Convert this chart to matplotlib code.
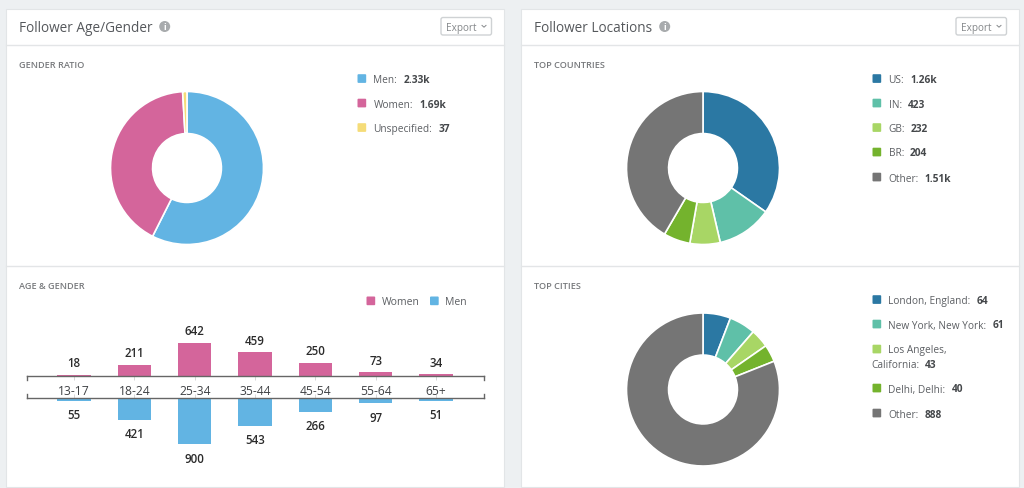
import matplotlib
matplotlib.use("Agg")
import matplotlib.pyplot as plt
from matplotlib.patches import Circle, FancyBboxPatch, Rectangle

W, H = 1024, 489

BG = "#edf0f2"
BLUE = "#62b4e3"
PINK = "#d4659b"
YELLOW = "#f5dc78"
C1 = "#2b78a3"
C2 = "#5fc0a8"
C3 = "#a8d665"
C4 = "#74b32d"
C5 = "#757575"
TXT = "#5c5f63"

# Gender ratio
gender_labels = ["Men", "Women", "Unspecified"]
gender_values = [2330, 1690, 37]
gender_text = ["2.33k", "1.69k", "37"]

# Age & gender
age_groups = ["13-17", "18-24", "25-34", "35-44", "45-54", "55-64", "65+"]
women = [18, 211, 642, 459, 250, 73, 34]
men = [55, 421, 900, 543, 266, 97, 51]

# Countries
country_labels = ["US", "IN", "GB", "BR", "Other"]
country_values = [1260, 423, 232, 204, 1510]
country_text = ["1.26k", "423", "232", "204", "1.51k"]

# Cities
city_labels = ["London, England", "New York, New York", "Los Angeles,\nCalifornia", "Delhi, Delhi", "Other"]
city_values = [64, 61, 43, 40, 888]
city_text = ["64", "61", "43", "40", "888"]

plt.rcParams["font.family"] = ["Open Sans", "DejaVu Sans"]

fig = plt.figure(figsize=(W / 100, H / 100), dpi=100, facecolor=BG)

# overlay in pixel coordinates (y goes down, like the screenshot)
bg = fig.add_axes([0, 0, 1, 1])
bg.set_xlim(0, W)
bg.set_ylim(H, 0)
bg.axis("off")


def px_axes(x0, y0, x1, y1):
    return fig.add_axes([x0 / W, 1 - y1 / H, (x1 - x0) / W, (y1 - y0) / H])


def donut(cx, cy, values, colors):
    r = 76.5
    ax = px_axes(cx - r, cy - r, cx + r, cy + r)
    ax.pie(values, colors=colors, startangle=90, counterclock=False, radius=1,
           wedgeprops=dict(width=0.55, edgecolor="white", linewidth=1.2))
    ax.set_xlim(-1, 1)
    ax.set_ylim(-1, 1)
    ax.set_aspect("equal")


def card(x0, x1, title, icon_x):
    bg.add_patch(Rectangle((x0, 9.5), x1 - x0, 478, fc="white", ec="#e2e5e7", lw=0.8))
    bg.plot([x0, x1], [45.5, 45.5], color="#e3e5e7", lw=1)
    bg.plot([x0, x1], [266.5, 266.5], color="#e3e5e7", lw=1)
    bg.text(x0 + 13, 28.3, title, fontsize=9.8, color="#55585c", va="center")
    bg.add_patch(Circle((icon_x, 27.5), 5.5, fc="#a8abad", ec="none"))
    bg.text(icon_x, 28, "i", fontsize=6.5, color="white", fontweight="bold",
            ha="center", va="center")
    bx = x1 - 63
    bg.add_patch(FancyBboxPatch((bx, 18.5), 50.5, 17.5, boxstyle="round,pad=0,rounding_size=2",
                                fc="white", ec="#cfd2d4", lw=1))
    bg.text(bx + 5, 28.3, "Export", fontsize=7.2, color="#85888b", va="center")
    bg.plot([bx + 41, bx + 43, bx + 45], [26.4, 28.2, 26.4], color="#85888b", lw=0.7)


def legend(x, ys, labels, texts, colors, size=7.3):
    rend = fig.canvas.get_renderer()
    for y, lab, val, c in zip(ys, labels, texts, colors):
        bg.add_patch(FancyBboxPatch((x - 0.5, y - 4.3), 8.7, 8.7, boxstyle="round,pad=0,rounding_size=1",
                                    fc=c, ec="none"))
        parts = lab.split("\n")
        t = bg.text(x + 15.5, y + 1, parts[0] + (":" if len(parts) == 1 else ""),
                    fontsize=size, color=TXT, va="center")
        if len(parts) == 1:
            end = t.get_window_extent(rend).x1
            bg.text(end + 6, y + 1, val, fontsize=size, color="#44474a", fontweight="bold", va="center")
        else:
            t2 = bg.text(x - 2, y + 15.5, parts[1] + ":", fontsize=size, color=TXT, va="center")
            end = t2.get_window_extent(rend).x1
            bg.text(end + 6, y + 15.5, val, fontsize=size, color="#44474a", fontweight="bold", va="center")


card(6, 504, "Follower Age/Gender", 164.7)
card(521.3, 1019, "Follower Locations", 664.7)

for x, y, s in [(19, 65.3, "GENDER RATIO"), (19, 286.5, "AGE & GENDER"),
                (534, 65.3, "TOP COUNTRIES"), (534, 286.5, "TOP CITIES")]:
    bg.text(x, y, s, fontsize=6.6, color="#77797c", fontweight="semibold", va="center")

# donuts
donut(187, 169, gender_values, [BLUE, PINK, YELLOW])
donut(703, 169, country_values, [C1, C2, C3, C4, C5])
donut(703, 390.5, city_values, [C1, C2, C3, C4, C5])

legend(358, [79.5, 104, 128.5], gender_labels, gender_text, [BLUE, PINK, YELLOW])
legend(873, [79.5, 104, 128.5, 153, 178], country_labels, country_text, [C1, C2, C3, C4, C5])
legend(873, [300.5, 325, 350, 389, 414], city_labels, city_text, [C1, C2, C3, C4, C5])

# age / gender legend
for x, lab, c in [(366.5, "Women", PINK), (430, "Men", BLUE)]:
    bg.add_patch(FancyBboxPatch((x, 297.5), 8.7, 8.7, boxstyle="round,pad=0,rounding_size=1",
                                fc=c, ec="none"))
    bg.text(x + 15.5, 302.5, lab, fontsize=7.5, color=TXT, va="center")

# mirrored bars, both panels share one px/value scale
x_pos = list(range(len(age_groups)))
xlim = (-0.78, 6.795)
px_per_unit = 33 / 642

ax_w = px_axes(27, 320, 484, 376.9)
ax_w.bar(x_pos, women, width=0.55, color=PINK)
ax_w.set_ylim(0, 56.9 / px_per_unit)

ax_m = px_axes(27, 398.9, 484, 470)
ax_m.bar(x_pos, men, width=0.55, color=BLUE)
ax_m.set_ylim(71.1 / px_per_unit, 0)

for ax, vals in [(ax_w, women), (ax_m, men)]:
    ax.set_xlim(*xlim)
    ax.patch.set_alpha(0)
    for s in ["left", "right", "top", "bottom"]:
        ax.spines[s].set_visible(False)
    ax.set_yticks([])
    for i, v in zip(x_pos, vals):
        ax.annotate(str(v), (i, v), xytext=(0, 4 if ax is ax_w else -5.5), textcoords="offset points",
                    ha="center", va="bottom" if ax is ax_w else "top",
                    fontsize=8.3, color="#2b2b2b", fontweight="semibold")

ax_w.spines["bottom"].set_visible(True)
ax_w.spines["bottom"].set_color("#666666")
ax_w.spines["bottom"].set_linewidth(1)
ax_w.set_xticks(x_pos)
ax_w.set_xticklabels(age_groups, fontsize=8.7, color="#3f4144")
ax_w.tick_params(axis="x", length=3, width=0.5, color="#c8c8c8", pad=2.5)

ax_m.spines["top"].set_visible(True)
ax_m.spines["top"].set_color("#666666")
ax_m.spines["top"].set_linewidth(1)
ax_m.set_xticks(x_pos)
ax_m.set_xticklabels([])
ax_m.tick_params(axis="x", top=True, bottom=False, direction="out", length=3, width=0.5, color="#c8c8c8")

# bracket ends
for x in [27, 483.7]:
    bg.plot([x, x], [376.9, 381], color="#666666", lw=1, zorder=5)
    bg.plot([x, x], [394.5, 398.9], color="#666666", lw=1, zorder=5)

fig.savefig("out.png", dpi=100)
plt.close()
